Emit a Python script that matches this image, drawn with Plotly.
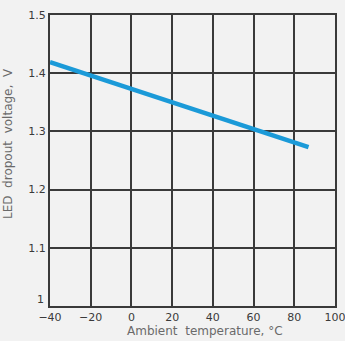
import plotly.graph_objects as go

# Dropout voltage vs ambient temperature
temperature_c = [-40, 87]
dropout_v = [1.419, 1.273]

x_ticks = [-40, -20, 0, 20, 40, 60, 80, 100]
y_ticks = [1.0, 1.1, 1.2, 1.3, 1.4, 1.5]
y_tick_text = ["1", "1.1", "1.2", "1.3", "1.4", "1.5"]

grid = "#3a3a3a"
title_col = "#6a6a6a"
tick_col = "#3a3a3a"
font_family = "DejaVu Sans, Verdana, sans-serif"

fig = go.Figure()
fig.add_trace(go.Scatter(
    x=temperature_c, y=dropout_v, mode="lines",
    line=dict(color="#1b9ad8", width=4.5),
    hoverinfo="skip", showlegend=False,
))

axis_common = dict(
    showgrid=True, gridcolor=grid, gridwidth=2,
    showline=True, linecolor=grid, linewidth=2, mirror=True, zeroline=False,
    ticks="", ticklen=0, automargin=False, ticklabeloverflow="allow",
    tickfont=dict(family=font_family, size=11, color=tick_col),
)

# the lowest y label is lifted off the corner so it clears the "−40" x label
y_axis_text = [""] + y_tick_text[1:]

fig.update_layout(
    width=345, height=341,
    margin=dict(l=50, r=10, t=15, b=35),
    paper_bgcolor="#f2f2f2", plot_bgcolor="#f2f2f2",
    font=dict(family=font_family, size=11, color=tick_col),
    xaxis=dict(range=[-40, 100], tickvals=x_ticks, ticklabelstandoff=0, **axis_common),
    yaxis=dict(range=[1.0, 1.5], tickvals=y_ticks, ticktext=y_axis_text, **axis_common),
    annotations=[
        dict(text=y_tick_text[0], xref="paper", yref="y", x=0, y=y_ticks[0],
             xanchor="right", yanchor="middle", xshift=-4, yshift=7, showarrow=False,
             font=dict(family=font_family, size=11, color=tick_col)),
        dict(text="Ambient  temperature, °C", xref="paper", yref="paper",
             x=0.544, y=-0.085, xanchor="center", yanchor="middle", showarrow=False,
             font=dict(family=font_family, size=12, color=title_col)),
        dict(text="LED  dropout  voltage,  V", xref="paper", yref="paper",
             x=-0.147, y=0.557, xanchor="center", yanchor="middle", showarrow=False,
             textangle=-90,
             font=dict(family=font_family, size=12, color=title_col)),
    ],
)

fig.write_html("out.html")
